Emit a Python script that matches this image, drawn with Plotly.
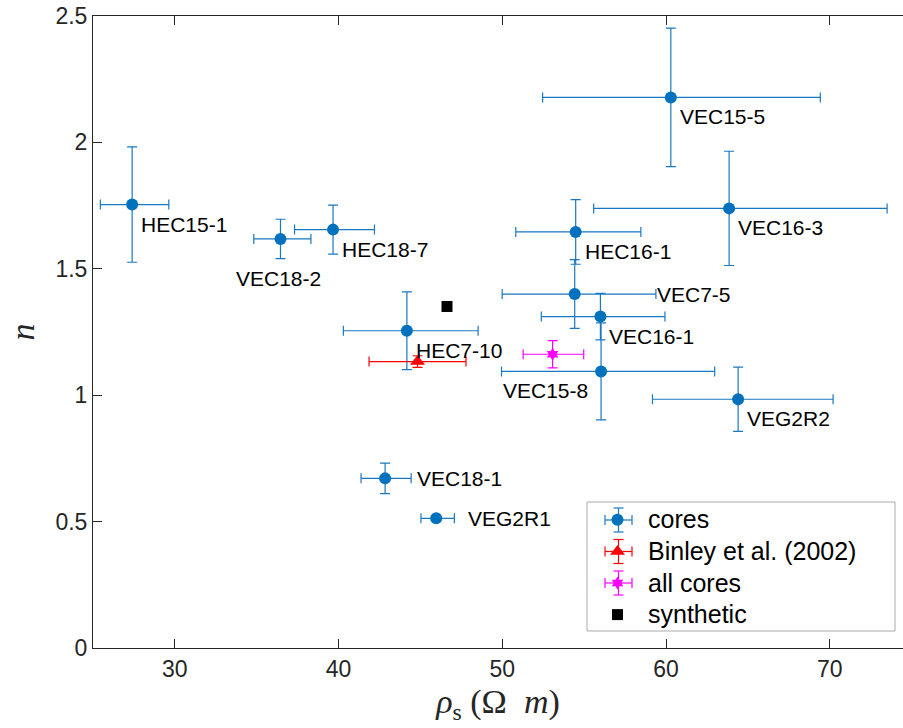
import plotly.graph_objects as go

# Core samples: resistivity rho_s (Ohm m) and saturation exponent n
core_names = ["HEC15-1", "VEC18-2", "HEC18-7", "VEC15-5", "VEC16-3", "HEC16-1",
              "VEC7-5", "VEC16-1", "VEC15-8", "VEG2R2", "HEC7-10", "VEC18-1", "VEG2R1"]
core_rho = [27.39, 36.45, 39.66, 60.29, 63.85, 54.48, 54.42, 55.99, 56.03, 64.40, 44.17, 42.84, 45.96]
core_rho_lo = [1.94, 1.63, 2.35, 7.83, 8.27, 3.66, 4.43, 3.61, 6.08, 5.23, 3.88, 1.47, 0.93]
core_rho_hi = [2.24, 1.86, 2.53, 9.13, 9.65, 3.98, 4.96, 3.94, 6.94, 5.80, 4.35, 1.59, 1.11]
core_n = [1.754, 1.618, 1.655, 2.178, 1.739, 1.646, 1.400, 1.311, 1.094, 0.984, 1.255, 0.671, 0.513]
core_n_err = [0.228, 0.078, 0.097, 0.274, 0.226, 0.128, 0.136, 0.092, 0.192, 0.127, 0.154, 0.060, 0.010]

# Binley et al. (2002)
binley_rho = [44.82]
binley_rho_err = [2.96]
binley_n = [1.133]
binley_n_err = [0.023]

# Fit to all cores together
all_rho = [53.07]
all_rho_lo = [1.80]
all_rho_hi = [1.90]
all_n = [1.162]
all_n_err = [0.054]

# Synthetic case
syn_rho = [46.62]
syn_n = [1.351]

BLUE = "#0072BD"
BLUE_BAR = "#1a78c2"
AXIS_COL = "#262626"
SANS = "Liberation Sans, Arial, sans-serif"

# Figure geometry (px) used to place legend decorations in paper coordinates
W, H = 903, 728
M_L, M_R, M_T, M_B = 93, 0, 16, 80
PW, PH = W - M_L - M_R, H - M_T - M_B


def px_to_paper(px, py):
    return (px - M_L) / PW, (H - M_B - py) / PH


def legend_name(text):
    # larger legend text while keeping the row pitch of the legend font
    return f"<span style='font-size:25px'>{text}</span>"


fig = go.Figure()

fig.add_trace(go.Scatter(
    x=core_rho, y=core_n, mode="markers", name=legend_name("cores"),
    marker=dict(symbol="circle", size=12, color=BLUE),
    error_x=dict(type="data", symmetric=False, array=core_rho_hi, arrayminus=core_rho_lo,
                 color=BLUE_BAR, thickness=1.2, width=5),
    error_y=dict(type="data", array=core_n_err, color=BLUE_BAR, thickness=1.2, width=5),
))
fig.add_trace(go.Scatter(
    x=binley_rho, y=binley_n, mode="markers", name=legend_name("Binley et al. (2002)"),
    marker=dict(symbol="triangle-up", size=13, color="#FF0000"),
    error_x=dict(type="data", array=binley_rho_err, color="#FF0000", thickness=1.2, width=5),
    error_y=dict(type="data", array=binley_n_err, color="#FF0000", thickness=1.2, width=5),
))
fig.add_trace(go.Scatter(
    x=all_rho, y=all_n, mode="markers", name=legend_name("all cores"),
    marker=dict(symbol="hexagram", size=10, color="#FF00FF"),
    error_x=dict(type="data", symmetric=False, array=all_rho_hi, arrayminus=all_rho_lo,
                 color="#FF00FF", thickness=1.2, width=5),
    error_y=dict(type="data", array=all_n_err, color="#FF00FF", thickness=1.2, width=5),
))
fig.add_trace(go.Scatter(
    x=syn_rho, y=syn_n, mode="markers", name=legend_name("synthetic"),
    marker=dict(symbol="square", size=11, color="#000000"),
))

# Label placement: (xshift px, yshift px, xanchor)
default_place = (7, -19.5, "left")
label_place = {
    "VEC18-2": (-1.5, -40, "center"),
    "VEC15-8": (-11, -19, "right"),
    "VEC7-5": (80, 0, "left"),
    "VEC18-1": (30, 0, "left"),
    "VEG2R1": (30, 0, "left"),
}
for name, xv, yv in zip(core_names, core_rho, core_n):
    dx, dy, anc = label_place.get(name, default_place)
    fig.add_annotation(x=xv, y=yv, text=name, showarrow=False,
                       xanchor=anc, yanchor="middle", xshift=dx, yshift=dy,
                       font=dict(family=SANS, size=21, color="#000000"))

# Legend frame
lx0, ly1 = px_to_paper(587, 502)
lx1, ly0 = px_to_paper(895, 631)
fig.add_shape(type="rect", xref="paper", yref="paper", x0=lx0, x1=lx1, y0=ly0, y1=ly1,
              line=dict(color="#ABABAB", width=1), fillcolor="white", layer="above")


# Error-bar crosses behind the legend symbols
def legend_cross(cx, cy, color, half_w=13.5, half_h=12, cap=5):
    segs = [
        (cx - half_w, cy, cx + half_w, cy),
        (cx, cy - half_h, cx, cy + half_h),
        (cx - half_w, cy - cap, cx - half_w, cy + cap),
        (cx + half_w, cy - cap, cx + half_w, cy + cap),
        (cx - cap, cy - half_h, cx + cap, cy - half_h),
        (cx - cap, cy + half_h, cx + cap, cy + half_h),
    ]
    for x0p, y0p, x1p, y1p in segs:
        a0, b0 = px_to_paper(x0p, y0p)
        a1, b1 = px_to_paper(x1p, y1p)
        fig.add_shape(type="line", xref="paper", yref="paper", x0=a0, y0=b0, x1=a1, y1=b1,
                      line=dict(color=color, width=1.2), layer="above")


legend_cross(618.5, 520, BLUE_BAR)
legend_cross(618.5, 551.5, "#FF0000")
legend_cross(618.5, 583, "#FF00FF")

axis_common = dict(
    showline=True, linecolor=AXIS_COL, linewidth=1,
    ticks="inside", ticklen=9, tickcolor=AXIS_COL, tickwidth=1,
    showgrid=False, zeroline=False,
    tickfont=dict(family=SANS, size=23, color=AXIS_COL),
)

leg_x, leg_y = px_to_paper(587, 499)

fig.update_layout(
    width=W, height=H,
    margin=dict(l=M_L, r=M_R, t=M_T, b=M_B),
    paper_bgcolor="white", plot_bgcolor="white",
    xaxis=dict(range=[25, 74.47], tickvals=[30, 40, 50, 60, 70], mirror="ticks",
               title=dict(text="<i>ρ</i><sub>s</sub> (Ω  <i>m</i>)",
                          font=dict(family="Liberation Serif, serif", size=34, color=AXIS_COL),
                          standoff=8),
               **axis_common),
    yaxis=dict(range=[0, 2.5], dtick=0.5,
               title=dict(text="<i>n</i>",
                          font=dict(family="Liberation Serif, serif", size=34, color=AXIS_COL),
                          standoff=10),
               **axis_common),
    showlegend=True,
    legend=dict(x=leg_x, y=leg_y, xanchor="left", yanchor="top",
                bgcolor="rgba(0,0,0,0)", borderwidth=0,
                font=dict(family=SANS, size=22, color="#000000"),
                itemwidth=51),
)

fig.write_html("out.html")
